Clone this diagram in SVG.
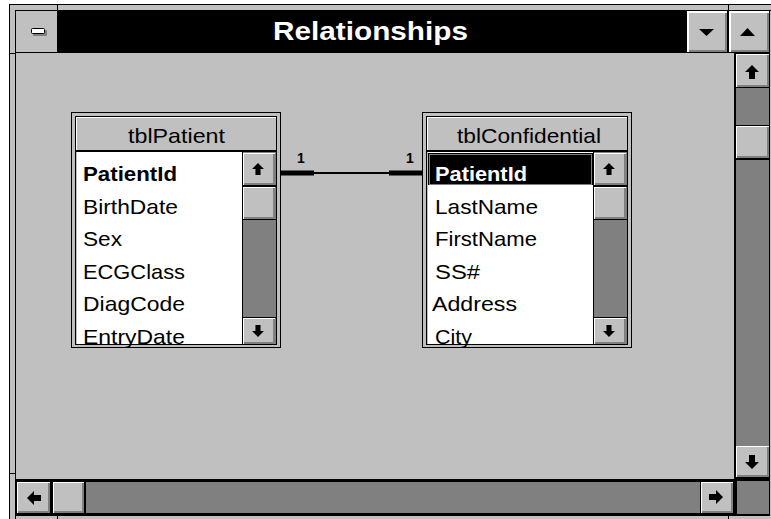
<svg xmlns="http://www.w3.org/2000/svg" xmlns:xlink="http://www.w3.org/1999/xlink" width="771" height="519" viewBox="0 0 771 519">
  <style>
    .face { fill: #c0c0c0; }
    .hi { fill: #ffffff; }
    .sh { fill: #808080; }
    .blk { fill: #000000; }
    .track { fill: #808080; }
    .ln { stroke: #000000; stroke-width: 1; fill: none; }
    .title { font-family: "Liberation Sans", Arial, sans-serif; font-weight: bold; font-size: 26px; fill: #ffffff; }
    .hdr { font-family: "Liberation Sans", Arial, sans-serif; font-size: 21px; fill: #000000; }
    .fld { font-family: "Liberation Sans", Arial, sans-serif; font-size: 21px; fill: #000000; }
    .key { font-weight: bold; }
    .sel { fill: #ffffff; }
    .card { font-family: "Liberation Sans", Arial, sans-serif; font-weight: bold; font-size: 14px; fill: #000000; }
  </style>
  <defs>
    <!-- scroll arrow glyph, pointing up, centred on 0,0 -->
    <path id="arr" d="M0,-7 L7,0 H3 V7 H-3 V0 H-7 Z" fill="#000000"/>
  </defs>

  <!-- window frame -->
  <g id="window">
    <rect x="9.5" y="4.5" width="770" height="520" fill="#c0c0c0" stroke="#000000"/>
    <rect x="15.5" y="10.5" width="760" height="510" fill="none" stroke="#000000"/>
    <line class="ln" x1="57.5" y1="4" x2="57.5" y2="11"/>
    <line class="ln" x1="728.5" y1="4" x2="728.5" y2="11"/>
    <line class="ln" x1="9" y1="53.5" x2="16" y2="53.5"/>
    <line class="ln" x1="9" y1="473.5" x2="16" y2="473.5"/>
    <line class="ln" x1="57.5" y1="516" x2="57.5" y2="519"/>
    <line class="ln" x1="728.5" y1="516" x2="728.5" y2="519"/>
  </g>

  <!-- title bar -->
  <g id="titlebar">
    <rect class="blk" x="16" y="11" width="754" height="42"/>
    <rect class="face" x="16" y="11" width="41" height="41"/>
    <rect class="sh" x="33" y="30" width="14" height="6" rx="1"/>
    <rect x="31.5" y="28.5" width="13" height="5" rx="1" fill="#ffffff" stroke="#000000"/>
    <!-- minimize -->
    <rect class="hi" x="687" y="11" width="40" height="41"/>
    <rect class="sh" x="689" y="13" width="38" height="39"/>
    <rect class="face" x="689" y="13" width="36" height="37"/>
    <polygon points="699,29 714,29 706.5,36" fill="#000000"/>
    <!-- maximize -->
    <rect class="hi" x="729" y="11" width="40" height="41"/>
    <rect class="sh" x="731" y="13" width="38" height="39"/>
    <rect class="face" x="731" y="13" width="36" height="37"/>
    <polygon points="740,36 755,36 747.5,28" fill="#000000"/>
    <text class="title" x="273" y="40" textLength="195" lengthAdjust="spacingAndGlyphs">Relationships</text>
  </g>

  <!-- client area -->
  <rect class="face" x="16" y="53" width="718" height="426"/>

  <!-- vertical scrollbar -->
  <g id="vscroll">
    <rect class="blk" x="734" y="53" width="36" height="463"/>
    <rect class="track" x="736" y="88" width="33" height="358"/>
    <rect class="hi" x="736" y="54" width="33" height="33"/>
    <rect class="sh" x="737" y="55" width="32" height="32"/>
    <rect class="face" x="737" y="55" width="30" height="30"/>
    <use xlink:href="#arr" href="#arr" transform="translate(752,72)"/>
    <rect class="blk" x="736" y="125" width="33" height="1"/>
    <rect class="hi" x="736" y="126" width="33" height="32"/>
    <rect class="sh" x="737" y="127" width="32" height="31"/>
    <rect class="face" x="737" y="127" width="30" height="29"/>
    <rect class="blk" x="736" y="158" width="33" height="2"/>
    <rect class="hi" x="736" y="446" width="33" height="31"/>
    <rect class="sh" x="737" y="447" width="32" height="30"/>
    <rect class="face" x="737" y="447" width="30" height="28"/>
    <use xlink:href="#arr" href="#arr" transform="translate(752,462) rotate(180)"/>
    <rect class="track" x="737" y="481" width="32" height="33"/>
  </g>

  <!-- horizontal scrollbar -->
  <g id="hscroll">
    <rect class="blk" x="16" y="479" width="720" height="37"/>
    <rect class="track" x="86" y="482" width="614" height="31"/>
    <rect class="hi" x="17" y="482" width="33" height="31"/>
    <rect class="sh" x="18" y="483" width="32" height="30"/>
    <rect class="face" x="18" y="483" width="30" height="28"/>
    <use xlink:href="#arr" href="#arr" transform="translate(34,498) rotate(-90)"/>
    <rect class="hi" x="53" y="482" width="31" height="31"/>
    <rect class="sh" x="54" y="483" width="30" height="30"/>
    <rect class="face" x="54" y="483" width="28" height="28"/>
    <rect class="hi" x="701" y="482" width="32" height="31"/>
    <rect class="sh" x="702" y="483" width="31" height="30"/>
    <rect class="face" x="702" y="483" width="29" height="28"/>
    <use xlink:href="#arr" href="#arr" transform="translate(716,497) rotate(90)"/>
  </g>

  <!-- relationship line -->
  <g id="connectors">
    <line x1="281" y1="173" x2="422" y2="173" stroke="#000000" stroke-width="2"/>
    <rect class="blk" x="281" y="170.5" width="33" height="5"/>
    <rect class="blk" x="389" y="170.5" width="33" height="5"/>
    <text class="card" x="297" y="163">1</text>
    <text class="card" x="406" y="163">1</text>
  </g>

  <!-- table: tblPatient -->
  <g id="tblPatient" transform="translate(71,112)">
    <rect x="0.5" y="0.5" width="209" height="235" fill="#c0c0c0" stroke="#000000"/>
    <rect x="4.5" y="4.5" width="201" height="228" fill="#c0c0c0" stroke="#000000"/>
    <rect class="hi" x="5" y="5" width="200" height="1"/>
    <rect class="hi" x="5" y="5" width="1" height="33"/>
    <rect class="blk" x="5" y="38" width="200" height="2"/>
    <text class="hdr" x="57" y="31" textLength="97" lengthAdjust="spacingAndGlyphs">tblPatient</text>
    <rect fill="#ffffff" x="6" y="40" width="165" height="192"/>
    <rect class="blk" x="171" y="40" width="1" height="192"/>
    <rect class="track" x="172" y="40" width="33" height="192"/>
    <rect class="hi" x="172" y="41" width="32" height="32"/>
    <rect class="sh" x="173" y="42" width="31" height="31"/>
    <rect class="face" x="173" y="42" width="29" height="29"/>
    <use xlink:href="#arr" href="#arr" transform="translate(187,57) scale(0.85)"/>
    <rect class="blk" x="172" y="73" width="33" height="2"/>
    <rect class="hi" x="172" y="75" width="32" height="32"/>
    <rect class="sh" x="173" y="76" width="31" height="31"/>
    <rect class="face" x="173" y="76" width="29" height="29"/>
    <rect class="blk" x="172" y="107" width="33" height="1"/>
    <rect class="blk" x="172" y="205" width="33" height="1"/>
    <rect class="hi" x="172" y="206" width="32" height="26"/>
    <rect class="sh" x="173" y="207" width="31" height="25"/>
    <rect class="face" x="173" y="207" width="29" height="23"/>
    <use xlink:href="#arr" href="#arr" transform="translate(187,219) rotate(180) scale(0.85)"/>
    <text class="fld key" x="12" y="69" textLength="94" lengthAdjust="spacingAndGlyphs">PatientId</text>
    <text class="fld" x="12" y="101.5" textLength="95" lengthAdjust="spacingAndGlyphs">BirthDate</text>
    <text class="fld" x="12" y="134" textLength="39" lengthAdjust="spacingAndGlyphs">Sex</text>
    <text class="fld" x="12" y="166.5" textLength="102" lengthAdjust="spacingAndGlyphs">ECGClass</text>
    <text class="fld" x="12" y="199" textLength="102" lengthAdjust="spacingAndGlyphs">DiagCode</text>
    <text class="fld" x="12" y="231.5" textLength="102" lengthAdjust="spacingAndGlyphs">EntryDate</text>
  </g>

  <!-- table: tblConfidential -->
  <g id="tblConfidential" transform="translate(422,112)">
    <rect x="0.5" y="0.5" width="209" height="235" fill="#c0c0c0" stroke="#000000"/>
    <rect x="4.5" y="4.5" width="201" height="228" fill="#c0c0c0" stroke="#000000"/>
    <rect class="hi" x="5" y="5" width="200" height="1"/>
    <rect class="hi" x="5" y="5" width="1" height="33"/>
    <rect class="blk" x="5" y="38" width="200" height="2"/>
    <text class="hdr" x="35" y="31" textLength="144" lengthAdjust="spacingAndGlyphs">tblConfidential</text>
    <rect fill="#ffffff" x="6" y="40" width="165" height="192"/>
    <rect class="blk" x="6" y="41" width="165" height="32"/>
    <rect x="7.5" y="42.5" width="162" height="30" fill="none" stroke="#ffffff" stroke-dasharray="1,1"/>
    <rect class="blk" x="171" y="40" width="1" height="192"/>
    <rect class="track" x="172" y="40" width="33" height="192"/>
    <rect class="hi" x="172" y="41" width="32" height="32"/>
    <rect class="sh" x="173" y="42" width="31" height="31"/>
    <rect class="face" x="173" y="42" width="29" height="29"/>
    <use xlink:href="#arr" href="#arr" transform="translate(187,57) scale(0.85)"/>
    <rect class="blk" x="172" y="73" width="33" height="2"/>
    <rect class="hi" x="172" y="75" width="32" height="32"/>
    <rect class="sh" x="173" y="76" width="31" height="31"/>
    <rect class="face" x="173" y="76" width="29" height="29"/>
    <rect class="blk" x="172" y="107" width="33" height="1"/>
    <rect class="blk" x="172" y="205" width="33" height="1"/>
    <rect class="hi" x="172" y="206" width="32" height="26"/>
    <rect class="sh" x="173" y="207" width="31" height="25"/>
    <rect class="face" x="173" y="207" width="29" height="23"/>
    <use xlink:href="#arr" href="#arr" transform="translate(187,219) rotate(180) scale(0.85)"/>
    <text class="fld key sel" x="13" y="69" textLength="92" lengthAdjust="spacingAndGlyphs">PatientId</text>
    <text class="fld" x="13" y="101.5" textLength="103" lengthAdjust="spacingAndGlyphs">LastName</text>
    <text class="fld" x="13" y="134" textLength="102" lengthAdjust="spacingAndGlyphs">FirstName</text>
    <text class="fld" x="13" y="166.5" textLength="45" lengthAdjust="spacingAndGlyphs">SS#</text>
    <text class="fld" x="10" y="199" textLength="85" lengthAdjust="spacingAndGlyphs">Address</text>
    <text class="fld" x="13" y="231.5" textLength="37" lengthAdjust="spacingAndGlyphs">City</text>
  </g>
</svg>
